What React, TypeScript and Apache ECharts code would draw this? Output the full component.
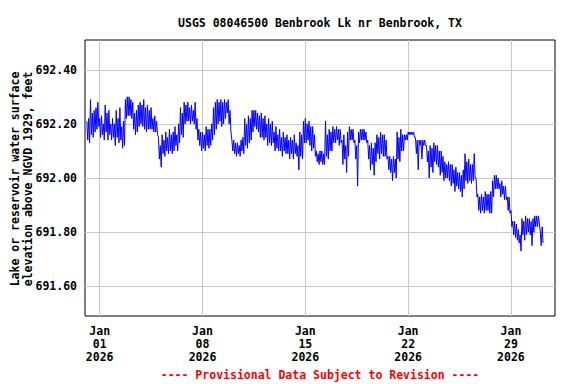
import React, { useEffect, useRef } from "react";
import * as echarts from "echarts";

const TITLE = "USGS 08046500 Benbrook Lk nr Benbrook, TX";
const Y_NAME = "Lake or reservoir water surface\nelevation above NGVD 1929, feet";
const FOOTER = "---- Provisional Data Subject to Revision ----";

// Record read in 3-hour slots starting Dec 31 2025 03:00;
// each slot holds the high and the low reading seen in it (feet).
const START = Date.UTC(2025, 11, 31, 3, 0);
const SLOT_MS = 3 * 3600 * 1000;

const dec31Hi = [692.21, 692.22, 692.29, 692.24, 692.25, 692.26, 692.28];
const dec31Lo = [692.14, 692.13, 692.16, 692.15, 692.17, 692.18, 692.19];
const jan01Hi = [692.22, 692.23, 692.2, 692.27, 692.24, 692.25, 692.2, 692.22];
const jan01Lo = [692.15, 692.16, 692.14, 692.17, 692.14, 692.16, 692.14, 692.15];
const jan02Hi = [692.2, 692.25, 692.22, 692.26, 692.19, 692.21, 692.29, 692.3];
const jan02Lo = [692.12, 692.15, 692.13, 692.14, 692.11, 692.12, 692.22, 692.23];
const jan03Hi = [692.3, 692.29, 692.28, 692.24, 692.25, 692.27, 692.28, 692.27];
const jan03Lo = [692.23, 692.22, 692.18, 692.16, 692.17, 692.19, 692.2, 692.19];
const jan04Hi = [692.29, 692.26, 692.27, 692.25, 692.26, 692.22, 692.23, 692.21];
const jan04Lo = [692.18, 692.17, 692.18, 692.18, 692.18, 692.17, 692.17, 692.16];
const jan05Hi = [692.15, 692.12, 692.16, 692.14, 692.17, 692.15, 692.18, 692.16];
const jan05Lo = [692.07, 692.04, 692.09, 692.08, 692.1, 692.09, 692.1, 692.09];
const jan06Hi = [692.17, 692.19, 692.16, 692.2, 692.26, 692.24, 692.28, 692.27];
const jan06Lo = [692.1, 692.12, 692.1, 692.13, 692.16, 692.15, 692.2, 692.21];
const jan07Hi = [692.28, 692.26, 692.27, 692.25, 692.28, 692.22, 692.18, 692.17];
const jan07Lo = [692.21, 692.2, 692.21, 692.2, 692.18, 692.14, 692.12, 692.1];
const jan08Hi = [692.17, 692.16, 692.19, 692.18, 692.18, 692.2, 692.26, 692.28];
const jan08Lo = [692.11, 692.1, 692.12, 692.11, 692.12, 692.14, 692.16, 692.18];
const jan09Hi = [692.29, 692.28, 692.29, 692.28, 692.29, 692.28, 692.29, 692.25];
const jan09Lo = [692.2, 692.21, 692.19, 692.2, 692.22, 692.24, 692.2, 692.17];
const jan10Hi = [692.14, 692.14, 692.13, 692.13, 692.12, 692.14, 692.15, 692.22];
const jan10Lo = [692.1, 692.09, 692.08, 692.09, 692.08, 692.1, 692.09, 692.12];
const jan11Hi = [692.2, 692.23, 692.22, 692.25, 692.25, 692.25, 692.24, 692.23];
const jan11Lo = [692.11, 692.13, 692.14, 692.17, 692.19, 692.18, 692.17, 692.15];
const jan12Hi = [692.24, 692.22, 692.23, 692.2, 692.22, 692.2, 692.21, 692.17];
const jan12Lo = [692.15, 692.14, 692.15, 692.12, 692.13, 692.12, 692.13, 692.1];
const jan13Hi = [692.19, 692.16, 692.18, 692.15, 692.17, 692.15, 692.16, 692.14];
const jan13Lo = [692.11, 692.1, 692.1, 692.08, 692.1, 692.09, 692.09, 692.07];
const jan14Hi = [692.15, 692.14, 692.16, 692.13, 692.12, 692.17, 692.16, 692.21];
const jan14Lo = [692.09, 692.07, 692.09, 692.08, 692.03, 692.08, 692.07, 692.13];
const jan15Hi = [692.22, 692.2, 692.21, 692.19, 692.19, 692.16, 692.1, 692.09];
const jan15Lo = [692.13, 692.14, 692.12, 692.1, 692.11, 692.08, 692.06, 692.05];
const jan16Hi = [692.1, 692.1, 692.09, 692.21, 692.16, 692.18, 692.17, 692.19];
const jan16Lo = [692.06, 692.05, 692.05, 692.08, 692.07, 692.1, 692.1, 692.13];
const jan17Hi = [692.18, 692.19, 692.18, 692.18, 692.14, 692.16, 692.12, 692.17];
const jan17Lo = [692.13, 692.14, 692.12, 692.13, 692.05, 692.07, 692.02, 692.08];
const jan18Hi = [692.19, 692.18, 692.18, 692.14, 692.12, 692.17, 692.18, 692.18];
const jan18Lo = [692.14, 692.14, 692.13, 692.07, 691.97, 692.13, 692.14, 692.14];
const jan19Hi = [692.18, 692.17, 692.14, 692.12, 692.13, 692.11, 692.13, 692.16];
const jan19Lo = [692.14, 692.13, 692.07, 692.03, 692.05, 692.01, 692.06, 692.09];
const jan20Hi = [692.15, 692.17, 692.16, 692.16, 692.14, 692.08, 692.08, 692.07];
const jan20Lo = [692.07, 692.09, 692.08, 692.08, 692.07, 692.03, 692.02, 691.99];
const jan21Hi = [692.08, 692.07, 692.17, 692.15, 692.18, 692.16, 692.16, 692.16];
const jan21Lo = [692.02, 692.0, 692.07, 692.06, 692.1, 692.1, 692.14, 692.14];
const jan22Hi = [692.17, 692.17, 692.17, 692.17, 692.15, 692.14, 692.14, 692.14];
const jan22Lo = [692.16, 692.16, 692.16, 692.15, 692.09, 692.03, 692.12, 692.07];
const jan23Hi = [692.14, 692.14, 692.12, 692.1, 692.12, 692.11, 692.13, 692.12];
const jan23Lo = [692.12, 692.12, 692.06, 692.0, 692.04, 692.02, 692.06, 692.05];
const jan24Hi = [692.12, 692.1, 692.1, 692.08, 692.06, 692.05, 692.06, 692.05];
const jan24Lo = [692.04, 692.01, 692.02, 691.99, 692.0, 692.0, 691.99, 691.97];
const jan25Hi = [692.05, 692.03, 692.04, 692.02, 692.02, 692.01, 692.03, 692.09];
const jan25Lo = [691.98, 691.95, 691.97, 691.96, 691.95, 691.93, 691.96, 691.99];
const jan26Hi = [692.06, 692.07, 692.05, 692.05, 692.09, 692.0, 691.94, 691.93];
const jan26Lo = [691.98, 691.99, 691.98, 691.99, 692.0, 691.93, 691.88, 691.87];
const jan27Hi = [691.94, 691.93, 691.95, 691.94, 691.94, 691.95, 691.99, 692.01];
const jan27Lo = [691.88, 691.87, 691.88, 691.88, 691.87, 691.87, 691.93, 691.96];
const jan28Hi = [692.01, 692.0, 691.98, 691.99, 691.97, 691.97, 691.93, 691.93];
const jan28Lo = [691.96, 691.96, 691.93, 691.94, 691.92, 691.92, 691.88, 691.87];
const jan29Hi = [691.88, 691.84, 691.84, 691.83, 691.81, 691.79, 691.85, 691.84];
const jan29Lo = [691.82, 691.79, 691.78, 691.77, 691.76, 691.73, 691.79, 691.77];
const jan30Hi = [691.86, 691.85, 691.85, 691.84, 691.85, 691.86, 691.86, 691.86];
const jan30Lo = [691.79, 691.8, 691.79, 691.75, 691.8, 691.82, 691.82, 691.83];
const jan31Hi = [691.8, 691.82];
const jan31Lo = [691.75, 691.76];

const slotHigh = [
  ...dec31Hi, ...jan01Hi, ...jan02Hi, ...jan03Hi, ...jan04Hi, ...jan05Hi, ...jan06Hi, ...jan07Hi,
  ...jan08Hi, ...jan09Hi, ...jan10Hi, ...jan11Hi, ...jan12Hi, ...jan13Hi, ...jan14Hi, ...jan15Hi,
  ...jan16Hi, ...jan17Hi, ...jan18Hi, ...jan19Hi, ...jan20Hi, ...jan21Hi, ...jan22Hi, ...jan23Hi,
  ...jan24Hi, ...jan25Hi, ...jan26Hi, ...jan27Hi, ...jan28Hi, ...jan29Hi, ...jan30Hi, ...jan31Hi,
];
const slotLow = [
  ...dec31Lo, ...jan01Lo, ...jan02Lo, ...jan03Lo, ...jan04Lo, ...jan05Lo, ...jan06Lo, ...jan07Lo,
  ...jan08Lo, ...jan09Lo, ...jan10Lo, ...jan11Lo, ...jan12Lo, ...jan13Lo, ...jan14Lo, ...jan15Lo,
  ...jan16Lo, ...jan17Lo, ...jan18Lo, ...jan19Lo, ...jan20Lo, ...jan21Lo, ...jan22Lo, ...jan23Lo,
  ...jan24Lo, ...jan25Lo, ...jan26Lo, ...jan27Lo, ...jan28Lo, ...jan29Lo, ...jan30Lo, ...jan31Lo,
];

const yTicks = [691.6, 691.8, 692.0, 692.2, 692.4];
const xTicks = [
  Date.UTC(2026, 0, 1),
  Date.UTC(2026, 0, 8),
  Date.UTC(2026, 0, 15),
  Date.UTC(2026, 0, 22),
  Date.UTC(2026, 0, 29),
];
const X_MIN = Date.UTC(2025, 11, 31);
const X_MAX = Date.UTC(2026, 1, 1);
const Y_MIN = 691.49;
const Y_MAX = 692.51;

const MONTHS = ["Jan", "Feb", "Mar", "Apr", "May", "Jun", "Jul", "Aug", "Sep", "Oct", "Nov", "Dec"];
const FONT = "DejaVu Sans Mono";

export default function App() {
  const ref = useRef<HTMLDivElement>(null);
  useEffect(() => {
    if (!ref.current) return;
    const chart = echarts.init(ref.current, null, { renderer: "svg" });
    const data: number[][] = [];
    slotHigh.forEach((hi, i) => {
      const t = START + i * SLOT_MS;
      data.push([t, hi]);
      data.push([t + SLOT_MS / 2, slotLow[i]]);
    });
    const gridColor = "#c8c8c8";
    chart.setOption({
      animation: false,
      backgroundColor: "#fff",
      grid: {
        left: 85, right: 21, top: 40, bottom: 68,
        show: true, borderColor: "#000", borderWidth: 1, backgroundColor: "transparent",
      },
      title: {
        text: TITLE,
        left: 315, top: 12, textAlign: "center",
        textStyle: { fontFamily: FONT, fontWeight: "bold", fontSize: 11.5, color: "#000" },
      },
      xAxis: {
        type: "value",
        min: X_MIN, max: X_MAX,
        axisLine: { show: false },
        axisTick: { show: false },
        splitLine: { show: false },
        axisLabel: {
          customValues: xTicks,
          margin: 8,
          fontFamily: FONT, fontWeight: "bold", fontSize: 11.5, color: "#000",
          lineHeight: 13,
          formatter: (v: number) => {
            const d = new Date(v);
            return `${MONTHS[d.getUTCMonth()]}\n${String(d.getUTCDate()).padStart(2, "0")}\n${d.getUTCFullYear()}`;
          },
        },
      },
      yAxis: {
        type: "value",
        min: Y_MIN, max: Y_MAX,
        axisLine: { show: false },
        axisTick: { show: false },
        splitLine: { show: false },
        axisLabel: {
          customValues: yTicks,
          margin: 8,
          fontFamily: FONT, fontWeight: "bold", fontSize: 11.5, color: "#000",
          formatter: (v: number) => v.toFixed(2),
        },
      },
      graphic: [
        {
          type: "text",
          x: 21, y: 179, rotation: Math.PI / 2,
          style: {
            text: Y_NAME, align: "center", verticalAlign: "middle",
            fontFamily: FONT, fontWeight: "bold", fontSize: 11.5, lineHeight: 13, fill: "#000",
          },
        },
        {
          type: "text",
          x: 320, y: 375,
          style: {
            text: FOOTER, align: "center", verticalAlign: "middle",
            fontFamily: FONT, fontWeight: "bold", fontSize: 11.5, fill: "#ff0000",
          },
        },
      ],
      series: [
        {
          type: "line",
          data: [],
          silent: true,
          markLine: {
            silent: true,
            symbol: "none",
            label: { show: false },
            lineStyle: { color: gridColor, width: 1, type: "solid" },
            data: [
              ...yTicks.map((y) => ({ yAxis: y })),
              ...xTicks.map((x) => ({ xAxis: x })),
            ],
          },
        },
        {
          type: "line",
          data,
          showSymbol: false,
          symbol: "none",
          sampling: undefined,
          lineStyle: { color: "#0000ff", width: 1 },
          itemStyle: { color: "#0000ff" },
          z: 5,
        },
      ],
    });
    return () => chart.dispose();
  }, []);
  return <div ref={ref} style={{ width: 576, height: 384, position: "absolute", left: 0, top: 0 }} />;
}
